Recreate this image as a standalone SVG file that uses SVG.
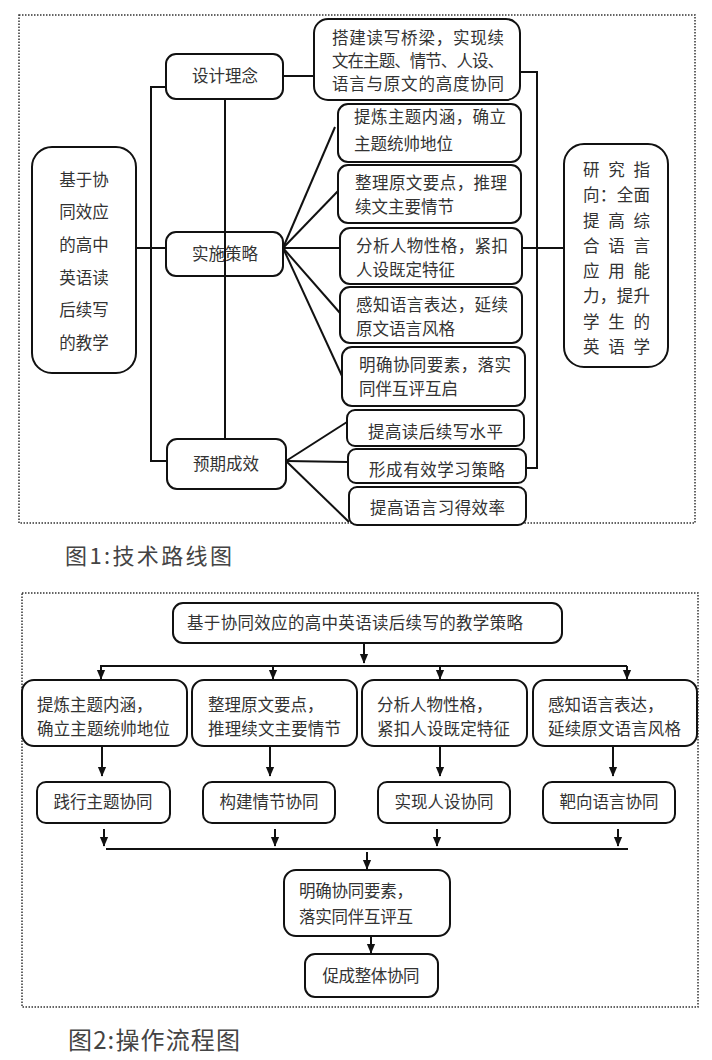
<svg xmlns="http://www.w3.org/2000/svg" width="712" height="1060" viewBox="0 0 712 1060">
<style>
.bg{fill:#fff}
.frame{fill:none;stroke:#333;stroke-width:1.5;stroke-dasharray:1.5 1.5}
.box{fill:#fff;stroke:#111;stroke-width:2}
.t{font-family:"Noto Sans CJK SC","Noto Sans",sans-serif;font-size:16.5px;fill:#333}
.c{text-anchor:middle}
.ln{fill:none;stroke:#111;stroke-width:2}
.cap{font-family:"Noto Sans CJK SC","Noto Sans",sans-serif;fill:#444}
</style>
<defs>
<marker id="ad" markerUnits="userSpaceOnUse" markerWidth="10" markerHeight="12" refX="11" refY="5" orient="auto" viewBox="0 0 12 10">
<path d="M0,0 L12,5 L0,10 Z" fill="#111"/>
</marker>
</defs>
<rect class="bg" x="0" y="0" width="712" height="1060"/>

<!-- Figure 1 -->
<rect class="frame" x="19" y="15" width="676" height="508"/>

<g id="n-root">
<rect class="box" x="32" y="147" width="104" height="226" rx="20"/>
<text class="t c" x="84" y="186">基于协</text>
<text class="t c" x="84" y="218">同效应</text>
<text class="t c" x="84" y="251">的高中</text>
<text class="t c" x="84" y="284">英语读</text>
<text class="t c" x="84" y="316">后续写</text>
<text class="t c" x="84" y="349">的教学</text>
</g>
<g id="n-design">
<rect class="box" x="166" y="54" width="117" height="45" rx="10"/>
<text class="t c" x="225" y="82">设计理念</text>
</g>
<g id="n-impl">
<rect class="box" x="166" y="232" width="117" height="44" rx="10"/>
<text class="t c" x="225" y="260">实施策略</text>
</g>
<g id="n-expect">
<rect class="box" x="167" y="439" width="119" height="50" rx="10"/>
<text class="t c" x="226" y="470">预期成效</text>
</g>
<g id="n-bridge">
<rect class="box" x="314" y="19" width="206" height="81" rx="14"/>
<text class="t" x="332" y="44" font-size="15.5" textLength="172">搭建读写桥梁，实现续</text>
<text class="t" x="332" y="67" font-size="15.5" textLength="172">文在主题、情节、人设、</text>
<text class="t" x="332" y="90" font-size="15.5" textLength="172">语言与原文的高度协同</text>
</g>
<g id="n-s1">
<rect class="box" x="338" y="104" width="183" height="58" rx="10"/>
<text class="t" x="354" y="123" textLength="152">提炼主题内涵，确立</text>
<text class="t" x="354" y="150">主题统帅地位</text>
</g>
<g id="n-s2">
<rect class="box" x="338" y="165" width="183" height="58" rx="10"/>
<text class="t" x="355" y="189" textLength="152">整理原文要点，推理</text>
<text class="t" x="355" y="213">续文主要情节</text>
</g>
<g id="n-s3">
<rect class="box" x="340" y="228" width="182" height="56" rx="10"/>
<text class="t" x="356" y="252" textLength="152">分析人物性格，紧扣</text>
<text class="t" x="356" y="276">人设既定特征</text>
</g>
<g id="n-s4">
<rect class="box" x="340" y="287" width="182" height="56" rx="10"/>
<text class="t" x="356" y="311" textLength="152">感知语言表达，延续</text>
<text class="t" x="356" y="335">原文语言风格</text>
</g>
<g id="n-s5">
<rect class="box" x="342" y="347" width="183" height="59" rx="10"/>
<text class="t" x="359" y="371" textLength="152">明确协同要素，落实</text>
<text class="t" x="359" y="395">同伴互评互启</text>
</g>
<g id="n-e1">
<rect class="box" x="347" y="410" width="177" height="36" rx="8"/>
<text class="t" x="368" y="438" textLength="135">提高读后续写水平</text>
</g>
<g id="n-e2">
<rect class="box" x="348" y="449" width="178" height="34" rx="8"/>
<text class="t" x="369" y="476" textLength="136">形成有效学习策略</text>
</g>
<g id="n-e3">
<rect class="box" x="349" y="487" width="177" height="38" rx="8"/>
<text class="t" x="370" y="514" textLength="135">提高语言习得效率</text>
</g>
<g id="n-goal">
<rect class="box" x="564" y="144" width="104" height="223" rx="20"/>
<text class="t" x="583" y="176" textLength="67">研究指</text>
<text class="t" x="583" y="201" textLength="67">向：全面</text>
<text class="t" x="583" y="227" textLength="67">提高综</text>
<text class="t" x="583" y="252" textLength="67">合语言</text>
<text class="t" x="583" y="277" textLength="67">应用能</text>
<text class="t" x="583" y="302" textLength="67">力，提升</text>
<text class="t" x="583" y="328" textLength="67">学生的</text>
<text class="t" x="583" y="353" textLength="67">英语学</text>
</g>

<g id="connectors1">
<polyline class="ln" points="166,87 151,87 151,461 167,461"/>
<line class="ln" x1="136" y1="248" x2="166" y2="248"/>
<line class="ln" x1="225" y1="99" x2="225" y2="439"/>
<line class="ln" x1="283" y1="76" x2="314" y2="76"/>
<polyline class="ln" points="520,72 537,72 537,468 526,468"/>
<line class="ln" x1="283" y1="248" x2="335" y2="127"/>
<line class="ln" x1="283" y1="248" x2="338" y2="191"/>
<line class="ln" x1="283" y1="248" x2="340" y2="248"/>
<line class="ln" x1="283" y1="248" x2="340" y2="313"/>
<line class="ln" x1="283" y1="248" x2="342" y2="376"/>
<line class="ln" x1="286" y1="461" x2="347" y2="422"/>
<line class="ln" x1="286" y1="461" x2="348" y2="462"/>
<line class="ln" x1="286" y1="461" x2="349" y2="522"/>
<line class="ln" x1="522" y1="248" x2="564" y2="248"/>
</g>

<text class="cap" x="65" y="564" font-size="22" textLength="167">图1:技术路线图</text>

<!-- Figure 2 -->
<rect class="frame" x="22" y="593" width="676" height="414"/>

<g id="m-top">
<rect class="box" x="173" y="603" width="389" height="40" rx="10"/>
<text class="t" x="187" y="629" font-size="17.5" textLength="336">基于协同效应的高中英语读后续写的教学策略</text>
</g>
<g id="m-a">
<rect class="box" x="22" y="680" width="165" height="66" rx="12"/>
<text class="t" x="37" y="711">提炼主题内涵，</text>
<text class="t" x="37" y="735" textLength="133">确立主题统帅地位</text>
</g>
<g id="m-b">
<rect class="box" x="192" y="680" width="165" height="66" rx="12"/>
<text class="t" x="208" y="711">整理原文要点，</text>
<text class="t" x="208" y="735" textLength="133">推理续文主要情节</text>
</g>
<g id="m-c">
<rect class="box" x="362" y="680" width="165" height="66" rx="12"/>
<text class="t" x="377" y="711">分析人物性格，</text>
<text class="t" x="377" y="735" textLength="133">紧扣人设既定特征</text>
</g>
<g id="m-d">
<rect class="box" x="533" y="680" width="164" height="66" rx="12"/>
<text class="t" x="548" y="711">感知语言表达，</text>
<text class="t" x="548" y="735" textLength="133">延续原文语言风格</text>
</g>
<g id="m-a2">
<rect class="box" x="37" y="782" width="133" height="41" rx="9"/>
<text class="t c" x="103" y="808">践行主题协同</text>
</g>
<g id="m-b2">
<rect class="box" x="203" y="782" width="132" height="41" rx="9"/>
<text class="t c" x="269" y="808">构建情节协同</text>
</g>
<g id="m-c2">
<rect class="box" x="378" y="782" width="132" height="41" rx="9"/>
<text class="t c" x="444" y="808">实现人设协同</text>
</g>
<g id="m-d2">
<rect class="box" x="543" y="782" width="132" height="41" rx="9"/>
<text class="t c" x="609" y="808">靶向语言协同</text>
</g>
<g id="m-clear">
<rect class="box" x="284" y="870" width="166" height="66" rx="12"/>
<text class="t" x="299" y="897" textLength="114">明确协同要素，</text>
<text class="t" x="299" y="923" textLength="114">落实同伴互评互</text>
</g>
<g id="m-whole">
<rect class="box" x="305" y="954" width="133" height="43" rx="10"/>
<text class="t c" x="371" y="982" textLength="97">促成整体协同</text>
</g>

<g id="connectors2">
<line class="ln" x1="364" y1="643" x2="364" y2="663" marker-end="url(#ad)"/>
<line class="ln" x1="100" y1="666" x2="627" y2="666"/>
<line class="ln" x1="101" y1="666" x2="101" y2="679" marker-end="url(#ad)"/>
<line class="ln" x1="273" y1="666" x2="273" y2="679" marker-end="url(#ad)"/>
<line class="ln" x1="440" y1="666" x2="440" y2="679" marker-end="url(#ad)"/>
<line class="ln" x1="627" y1="666" x2="627" y2="679" marker-end="url(#ad)"/>
<line class="ln" x1="102" y1="746" x2="102" y2="776" marker-end="url(#ad)"/>
<line class="ln" x1="270" y1="746" x2="270" y2="776" marker-end="url(#ad)"/>
<line class="ln" x1="440" y1="746" x2="440" y2="776" marker-end="url(#ad)"/>
<line class="ln" x1="613" y1="746" x2="613" y2="776" marker-end="url(#ad)"/>
<line class="ln" x1="104" y1="829" x2="104" y2="846" marker-end="url(#ad)"/>
<line class="ln" x1="275" y1="829" x2="275" y2="846" marker-end="url(#ad)"/>
<line class="ln" x1="437" y1="829" x2="437" y2="846" marker-end="url(#ad)"/>
<line class="ln" x1="618" y1="829" x2="618" y2="846" marker-end="url(#ad)"/>
<line class="ln" x1="106" y1="849" x2="628" y2="849" stroke-width="2.5"/>
<line class="ln" x1="367" y1="852" x2="367" y2="869" marker-end="url(#ad)"/>
<line class="ln" x1="371" y1="936" x2="371" y2="953" marker-end="url(#ad)"/>
</g>

<text class="cap" x="68" y="1049" font-size="24" textLength="172">图2:操作流程图</text>
</svg>
